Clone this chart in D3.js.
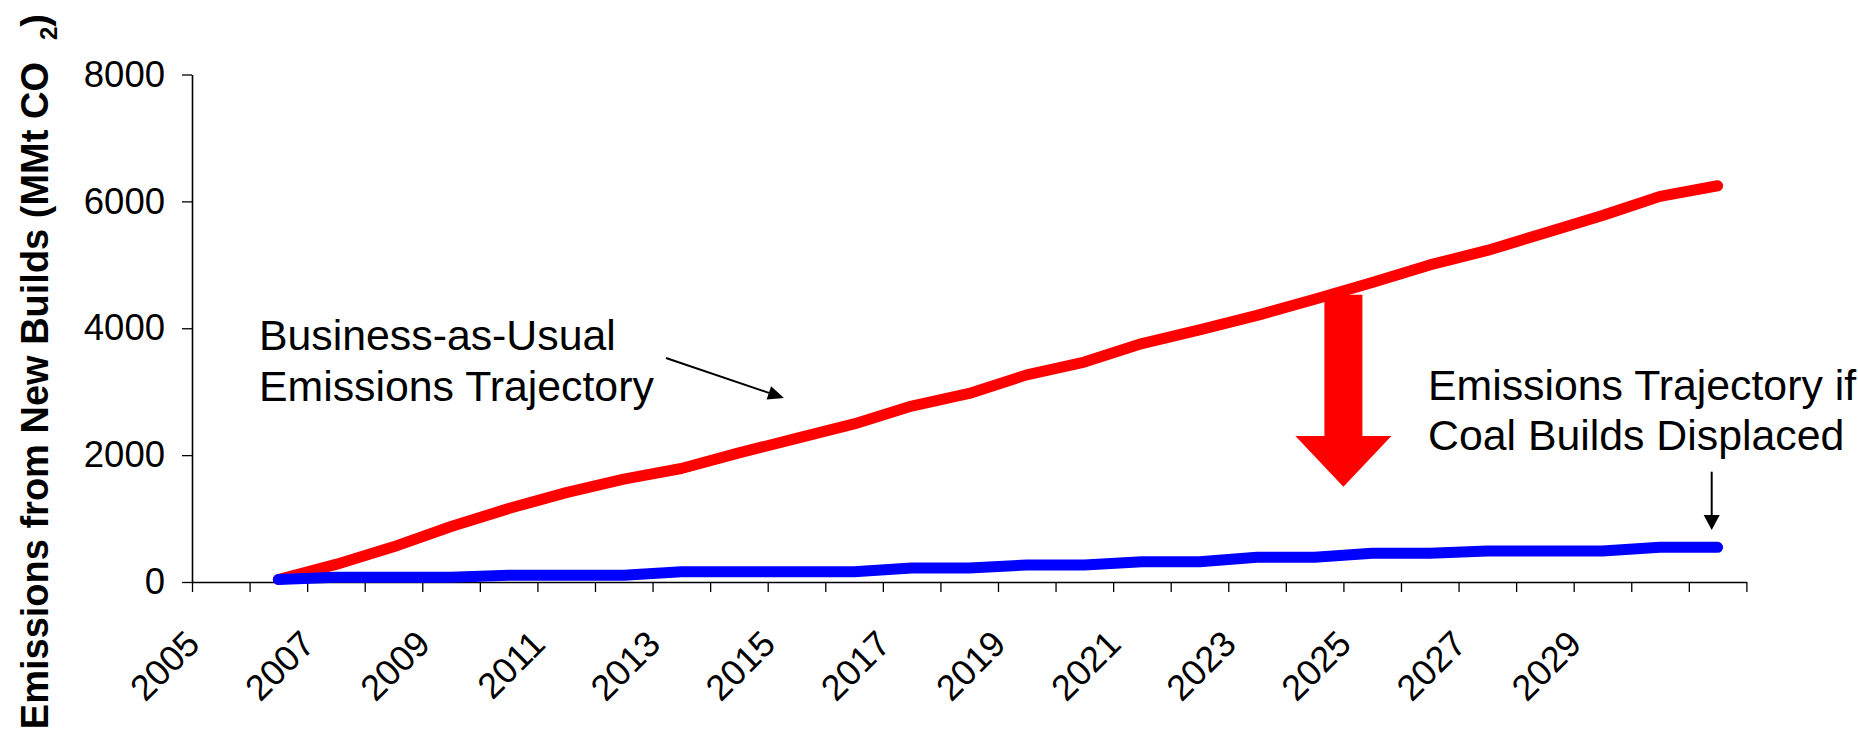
<!DOCTYPE html>
<html><head><meta charset="utf-8">
<script src="https://cdn.jsdelivr.net/npm/d3@7/dist/d3.min.js"></script>
<style>
html,body{margin:0;padding:0;background:#fff;}
svg{display:block;}
text{font-family:"Liberation Sans",Arial,Helvetica,sans-serif;fill:#000;}
</style>
</head><body>
<svg id="chart" width="1858" height="739"></svg>
<script>
// ---- data ----
const categories = [2005,2006,2007,2008,2009,2010,2011,2012,2013,2014,2015,2016,2017,2018,2019,2020,2021,2022,2023,2024,2025,2026,2027,2028,2029,2030,2031];
const seriesYears = [2006,2007,2008,2009,2010,2011,2012,2013,2014,2015,2016,2017,2018,2019,2020,2021,2022,2023,2024,2025,2026,2027,2028,2029,2030,2031];
const bauValues = [40,277,554,874,1158,1409,1623,1789,2035,2265,2492,2773,2973,3265,3467,3759,3973,4203,4456,4721,4998,5227,5503,5776,6079,6246];
const displacedValues = [40,75,75,75,106,106,106,162,162,162,162,220,220,268,268,320,320,390,390,453,453,489,489,489,547,547];
const yTicks = [0,2000,4000,6000,8000];
const xTickLabels = ["2005","2007","2009","2011","2013","2015","2017","2019","2021","2023","2025","2027","2029"];
const yTitleMain = "Emissions from New Builds (MMt CO";
const yTitleSub = "2";
const yTitleEnd = ")";
const bauLabel = ["Business-as-Usual","Emissions Trajectory"];
const displacedLabel = ["Emissions Trajectory if","Coal Builds Displaced"];
const reductionArrow = {at: 20, from: 4527, headBase: 2300, to: 1500};

// ---- scales ----
const svg = d3.select("#chart");
const x = d3.scaleLinear().domain([0, categories.length]).range([192, 1746.4]);
const cx = yr => x(categories.indexOf(yr) + 0.5);
const y = d3.scaleLinear().domain([0, 8000]).range([582, 74.5]);

// ---- axes ----
svg.append("g").attr("transform","translate(0,582)")
  .call(d3.axisBottom(x).tickValues(d3.range(0, categories.length + 1)).tickFormat("").tickSize(10).tickSizeOuter(0))
  .call(g => { g.selectAll(".tick line").attr("stroke","#000").attr("stroke-width",1.3);
               g.select(".domain").attr("stroke","#000").attr("stroke-width",1.6); });

svg.append("g").selectAll("text").data(xTickLabels).join("text")
  .attr("transform", d => `translate(${cx(+d) - 19},646) rotate(-45)`)
  .attr("text-anchor","end").attr("font-size",36).text(d => d);

svg.append("g").attr("transform","translate(192,0)")
  .call(d3.axisLeft(y).tickValues(yTicks).tickSize(10).tickSizeOuter(0).tickPadding(17).tickFormat(d3.format("d")))
  .call(g => { g.selectAll(".tick line").attr("stroke","#000").attr("stroke-width",1.3);
               g.select(".domain").attr("stroke","#000").attr("stroke-width",1.6);
               g.selectAll(".tick text").attr("font-size",36.5).attr("font-family","'Liberation Sans',Arial,sans-serif").attr("fill","#000"); });

// y title
const yt = svg.append("text")
  .attr("transform","translate(48,14) rotate(-90)")
  .attr("text-anchor","end").attr("font-size",38).attr("font-weight","bold");
yt.append("tspan").text(yTitleMain);
yt.append("tspan").attr("dx",22).attr("dy",9).attr("font-size",24).text(yTitleSub);
yt.append("tspan").attr("dy",-9).text(yTitleEnd);

// ---- lines ----
const line = d3.line().x((d,i) => cx(seriesYears[i])).y(d => y(d));
svg.append("path").datum(bauValues).attr("d", line)
  .attr("fill","none").attr("stroke","#FF0000").attr("stroke-width",11)
  .attr("stroke-linecap","round").attr("stroke-linejoin","round");
svg.append("path").datum(displacedValues).attr("d", line)
  .attr("fill","none").attr("stroke","#0000FF").attr("stroke-width",11)
  .attr("stroke-linecap","round").attr("stroke-linejoin","round");

// ---- big red reduction arrow ----
{
  const ax = x(reductionArrow.at), sh = 19, hw = 48;
  const t = y(reductionArrow.from), hb = y(reductionArrow.headBase), tip = y(reductionArrow.to);
  const p = [[ax-sh,t],[ax+sh,t],[ax+sh,hb],[ax+hw,hb],[ax,tip],[ax-hw,hb],[ax-sh,hb]];
  svg.append("path").attr("d","M"+p.map(q=>q.join(",")).join("L")+"Z").attr("fill","#FF0000");
}

// ---- annotations ----
const annot = svg.append("g").attr("font-size",42.8);
annot.selectAll("text.bau").data(bauLabel).join("text").attr("class","bau")
  .attr("x",259).attr("y",(d,i)=>350 + i*51).text(d=>d);
annot.selectAll("text.disp").data(displacedLabel).join("text").attr("class","disp")
  .attr("x",1428).attr("y",(d,i)=>400 + i*50).text(d=>d);

function arrow(x1,y1,x2,y2,len,half){
  const dx=x2-x1, dy=y2-y1, L=Math.hypot(dx,dy), ux=dx/L, uy=dy/L;
  const bx=x2-ux*len, by=y2-uy*len, px=-uy, py=ux;
  svg.append("line").attr("x1",x1).attr("y1",y1).attr("x2",bx).attr("y2",by)
    .attr("stroke","#000").attr("stroke-width",2);
  svg.append("path").attr("d",`M${x2},${y2}L${bx+px*half},${by+py*half}L${bx-px*half},${by-py*half}Z`).attr("fill","#000");
}
arrow(666,358,784,398,16,7);
arrow(1711.7,471.7,1711.7,530,15,8);
</script>
</body></html>
